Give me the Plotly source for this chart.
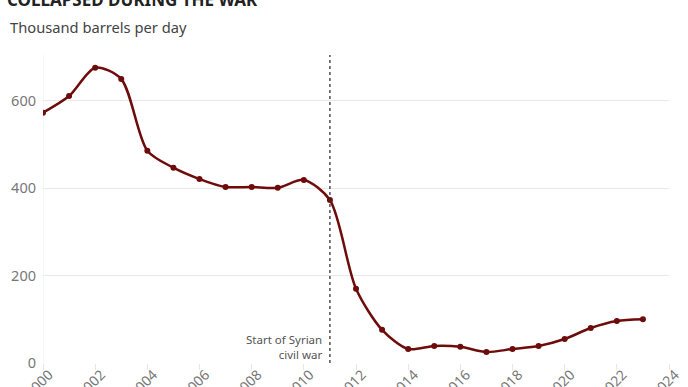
import plotly.graph_objects as go

years = list(range(2000, 2024))
production = [573, 611, 676, 650, 486, 447, 421, 403, 403, 401, 419, 373,
              170, 76, 32, 39, 37, 25, 32, 39, 55, 80, 96, 100]
x_ticks = list(range(2000, 2025, 2))
y_ticks = [0, 200, 400, 600]
war_year = 2011

line_color = "#6e0b0b"
font_family = "Noto Sans, Open Sans, sans-serif"

fig = go.Figure()
fig.add_trace(go.Scatter(
    x=years, y=production, mode="lines+markers",
    line=dict(color=line_color, width=2.5, shape="spline", smoothing=0.8),
    marker=dict(color=line_color, size=6),
    hoverinfo="skip", showlegend=False,
))

fig.add_shape(type="line", xref="x", yref="paper", x0=2000, x1=2000, y0=0, y1=1,
              line=dict(color="#eeeeee", width=1), layer="below")
fig.add_shape(type="line", xref="x", yref="paper", x0=war_year, x1=war_year, y0=0, y1=1,
              line=dict(color="#333333", width=1.3, dash="dot"))

fig.add_annotation(x=war_year, y=0, xref="x", yref="y", xshift=-6, yshift=-1,
                   text="Start of Syrian<br>civil war", showarrow=False,
                   xanchor="right", yanchor="bottom", align="right",
                   font=dict(size=11.5, color="#555555", family=font_family))

fig.add_annotation(x=-0.06, y=1.136, xref="paper", yref="paper",
                   text="<b>COLLAPSED DURING THE WAR</b>", showarrow=False,
                   xanchor="left", yanchor="bottom",
                   font=dict(size=17, color="#222222", family=font_family))
fig.add_annotation(x=-0.056, y=1.09, xref="paper", yref="paper",
                   text="Thousand barrels per day", showarrow=False,
                   xanchor="left", yanchor="middle",
                   font=dict(size=14.7, color="#444444", family=font_family))

fig.update_layout(
    width=688, height=387,
    margin=dict(l=43, r=19, t=55, b=24),
    paper_bgcolor="white", plot_bgcolor="white",
    font=dict(family=font_family, color="#777777", size=13),
    xaxis=dict(range=[2000, 2024], tickvals=x_ticks, ticktext=[str(t) for t in x_ticks],
               tickangle=-45, showgrid=False, zeroline=False, showline=False,
               ticks="", automargin=False, ticklabelshift=6,
               minor=dict(tickvals=x_ticks, ticks="outside", ticklen=6,
                          tickcolor="#e6e6e6", showgrid=False),
               tickfont=dict(size=14, color="#777777")),
    yaxis=dict(range=[0, 705], tickvals=y_ticks, showgrid=True, gridcolor="#e8e8e8",
               gridwidth=1, zeroline=False, showline=False, automargin=False,
               ticks="", ticklabelstandoff=6,
               tickfont=dict(size=14.5, color="#777777")),
)

fig.write_html("out.html", config={"displayModeBar": False},
               post_script="document.body.style.margin='0';document.body.style.overflow='hidden';")
